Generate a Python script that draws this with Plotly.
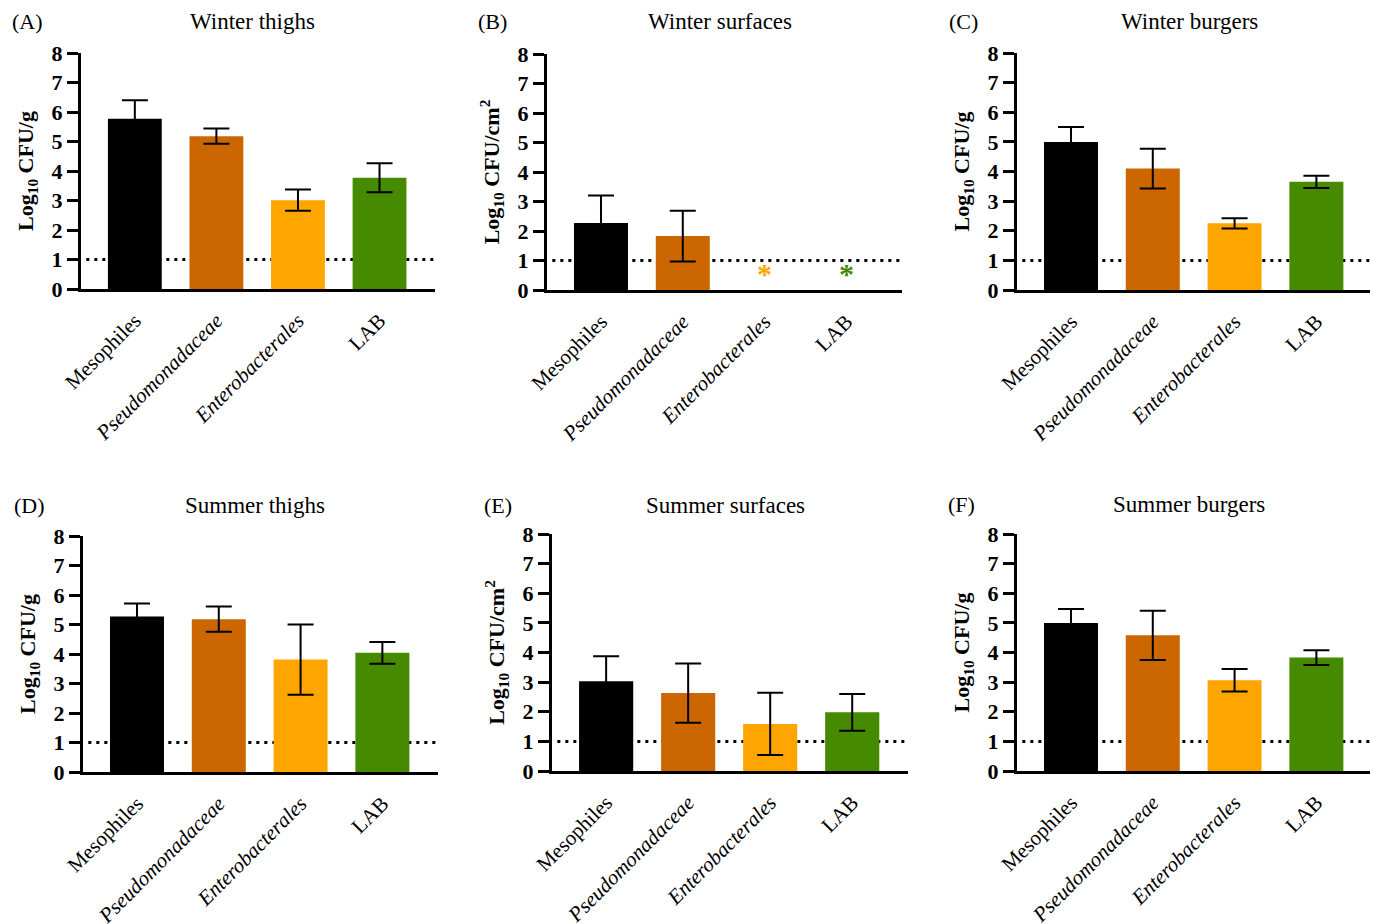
import plotly.graph_objects as go
import math

categories = ["Mesophiles", "Pseudomonadaceae", "Enterobacterales", "LAB"]
tick_text = ["Mesophiles", "<i>Pseudomonadaceae</i>", "<i>Enterobacterales</i>", "LAB"]
colors = ["#000000", "#CC6600", "#FFA500", "#468A00"]

panel_titles = ["Winter thighs", "Winter surfaces", "Winter burgers",
                "Summer thighs", "Summer surfaces", "Summer burgers"]
panel_letters = ["(A)", "(B)", "(C)", "(D)", "(E)", "(F)"]
y_titles = ["Log<sub>10</sub> CFU/g", "Log<sub>10</sub> CFU/cm<sup>2</sup>", "Log<sub>10</sub> CFU/g",
            "Log<sub>10</sub> CFU/g", "Log<sub>10</sub> CFU/cm<sup>2</sup>", "Log<sub>10</sub> CFU/g"]

nan = float("nan")
winter_thighs = [5.77, 5.18, 3.01, 3.77]
winter_thighs_sd = [0.63, 0.26, 0.36, 0.49]
winter_surfaces = [2.27, 1.83, nan, nan]
winter_surfaces_sd = [0.93, 0.86, nan, nan]
winter_burgers = [5.00, 4.10, 2.25, 3.65]
winter_burgers_sd = [0.50, 0.67, 0.17, 0.21]
summer_thighs = [5.27, 5.18, 3.81, 4.04]
summer_thighs_sd = [0.44, 0.43, 1.19, 0.37]
summer_surfaces = [3.03, 2.63, 1.59, 1.98]
summer_surfaces_sd = [0.84, 1.00, 1.05, 0.62]
summer_burgers = [5.00, 4.58, 3.06, 3.83]
summer_burgers_sd = [0.47, 0.83, 0.38, 0.25]

values = [winter_thighs, winter_surfaces, winter_burgers, summer_thighs, summer_surfaces, summer_burgers]
sds = [winter_thighs_sd, winter_surfaces_sd, winter_burgers_sd, summer_thighs_sd, summer_surfaces_sd, summer_burgers_sd]

detection_limit = 1.0
not_detected_level = 0.45  # marker height for "not detected" asterisks

OFF = 8  # default page body margin
W, H = 1378 - OFF, 924 - OFF
# panel pixel boxes in screen pixels: (x0, x1, ytop, ybottom)
boxes = [(81, 435, 53, 289), (547, 902, 54, 290), (1017, 1372, 53, 290),
         (83, 438, 536, 772), (552, 908, 534, 771), (1017, 1372, 534, 771)]
title_pos = [(252, 22), (720, 22), (1189, 22), (255, 505), (725, 505), (1189, 504)]
letter_pos = [(10, 22), (476, 22), (947, 22), (12, 505), (482, 505), (946, 504)]


def fx(px):
    return (px - OFF) / W


def fy(py):
    return 1 - (py - OFF) / H


FONT = "Liberation Serif"
fig = go.Figure()
layout = dict(width=W, height=H, margin=dict(l=0, r=0, t=0, b=0, autoexpand=False),
              paper_bgcolor="white", plot_bgcolor="white", showlegend=False,
              font=dict(family=FONT, color="black"))
shapes = []
annotations = []

for i in range(6):
    sfx = "" if i == 0 else str(i + 1)
    xa, ya = "x" + sfx, "y" + sfx
    x0, x1, yt, yb = boxes[i]
    vals, sd = values[i], sds[i]
    fig.add_trace(go.Bar(
        x=categories, y=vals, xaxis=xa, yaxis=ya, width=0.66,
        marker=dict(color=colors, line=dict(width=0)),
        error_y=dict(type="data", array=sd, visible=True, color="black", thickness=2, width=13),
    ))
    nd_x = [c for c, v in zip(categories, vals) if math.isnan(v)]
    nd_c = [col for col, v in zip(colors, vals) if math.isnan(v)]
    if nd_x:
        fig.add_trace(go.Scatter(
            x=nd_x, y=[not_detected_level] * len(nd_x), xaxis=xa, yaxis=ya, mode="text",
            text=["<b>*</b>"] * len(nd_x), textfont=dict(color=nd_c, size=30, family=FONT),
            textposition="middle center", hoverinfo="skip"))
    layout["xaxis" + sfx] = dict(
        domain=[fx(x0), min(fx(x1), 1)], anchor=ya, range=[-0.66, 3.68], automargin=False,
        showline=True, linewidth=3, linecolor="black", ticks="outside", ticklen=8,
        tickcolor="rgba(0,0,0,0)", showgrid=False,
        tickmode="array", tickvals=categories, ticktext=tick_text, tickangle=-45,
        tickfont=dict(family=FONT, size=21, color="black"), fixedrange=True)
    layout["yaxis" + sfx] = dict(
        domain=[fy(yb), fy(yt)], anchor=xa, range=[0, 8], automargin=False,
        showline=True, linewidth=3, linecolor="black", ticks="outside", ticklen=11,
        tickwidth=3, tickcolor="black", dtick=1, showgrid=False, zeroline=False,
        tickfont=dict(family=FONT, size=22, color="black", weight="bold"),
        title=dict(text="<b>" + y_titles[i] + "</b>", font=dict(family=FONT, size=22, color="black"),
                   standoff=12))
    shapes.append(dict(type="line", xref=xa + " domain", yref=ya, x0=0.015, x1=1, y0=detection_limit,
                       y1=detection_limit, line=dict(color="black", width=3, dash="3px,5px"), layer="below"))
    tx, ty = title_pos[i]
    annotations.append(dict(text=panel_titles[i], x=fx(tx), y=fy(ty), xref="paper", yref="paper",
                            showarrow=False, xanchor="center", yanchor="middle",
                            font=dict(family=FONT, size=23, color="black")))
    lx, ly = letter_pos[i]
    annotations.append(dict(text=panel_letters[i], x=fx(lx), y=fy(ly), xref="paper", yref="paper",
                            showarrow=False, xanchor="left", yanchor="middle",
                            font=dict(family=FONT, size=22, color="black")))

layout["shapes"] = shapes
layout["annotations"] = annotations
fig.update_layout(**layout)
fig.write_html("out.html")
